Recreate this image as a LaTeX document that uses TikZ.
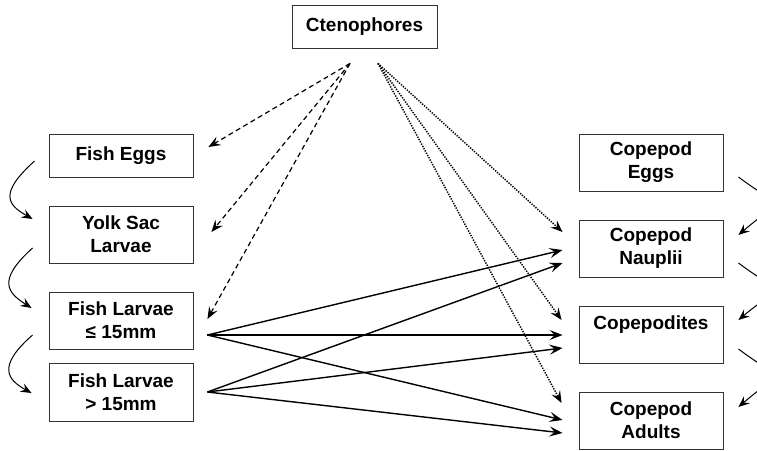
\documentclass[tikz,border=0pt]{standalone}
\usepackage{fontspec}
\setmainfont{Liberation Sans}
\usetikzlibrary{arrows.meta}
\begin{document}
\begin{tikzpicture}[x=1pt,y=-1pt,
  box/.style={draw=black!80,line width=0.9pt,align=center,inner sep=0pt,
    font=\fontsize{19}{23}\selectfont\bfseries},
  box2/.style={box,minimum width=144pt,minimum height=57pt},
  box1/.style={box,minimum width=144pt,minimum height=43pt},
  feed/.style={line width=1.4pt,-{Stealth[length=13pt,width=10pt,inset=5pt]}},
  dashfeed/.style={line width=1.2pt,dash pattern=on 5pt off 3.5pt,-{Stealth[length=12pt,width=9.5pt,inset=4.5pt]}},
  dotfeed/.style={line width=1.5pt,dash pattern=on 1.3pt off 1.3pt,-{Stealth[length=12pt,width=9.5pt,inset=4.5pt]}},
  develop/.style={line width=1pt,-{Stealth[length=11pt,width=9pt,inset=4pt]}}]
\useasboundingbox (0,0) rectangle (757,450);
\clip (0,0) rectangle (757,450);
\node[box,minimum width=145pt,minimum height=43pt] (cten) at (364.5,26.5) {Ctenophores};
\node[box1] (fe) at (121,155.5) {Fish Eggs};
\node[box2] (ys) at (121,234.5) {Yolk Sac\\Larvae};
\node[box2] (fl1) at (121,320.5) {Fish Larvae\\≤ 15mm};
\node[box2,minimum height=58pt] (fl2) at (121,392) {Fish Larvae\\> 15mm};
\node[box2] (ce) at (651,162.5) {Copepod\\Eggs};
\node[box2] (nau) at (651,248.5) {Copepod\\Nauplii};
\node[box2] (cop) at (651,334.5) {Copepodites\\\phantom{A}};
\node[box2] (ad) at (651,420.5) {Copepod\\Adults};
% ctenophore predation on fish
\draw[dashfeed] ([xshift=-14.5pt,yshift=-15pt]cten.south) -- ([xshift=15pt,yshift=8.5pt]fe.east);
\draw[dashfeed] ([xshift=-14.5pt,yshift=-15pt]cten.south) -- ([xshift=18pt,yshift=2.5pt]ys.east);
\draw[dashfeed] ([xshift=-14.5pt,yshift=-15pt]cten.south) -- ([xshift=14pt,yshift=1.5pt]fl1.east);
% ctenophore predation on copepods
\draw[dotfeed] ([xshift=13.5pt,yshift=-15pt]cten.south) -- ([xshift=-16pt,yshift=16.5pt]nau.west);
\draw[dotfeed] ([xshift=13.5pt,yshift=-15pt]cten.south) -- ([xshift=-17pt,yshift=14.5pt]cop.west);
\draw[dotfeed] ([xshift=13.5pt,yshift=-15pt]cten.south) -- ([xshift=-17pt,yshift=17.5pt]ad.west);
% fish larvae feeding on copepods
\draw[feed] ([xshift=14pt,yshift=-14.5pt]fl1.east) -- ([xshift=-16pt,yshift=-1.5pt]nau.west);
\draw[feed] ([xshift=14pt,yshift=-14.5pt]fl1.east) -- ([xshift=-16pt,yshift=-0.5pt]cop.west);
\draw[feed] ([xshift=14pt,yshift=-14.5pt]fl1.east) -- ([xshift=-16pt,yshift=0.5pt]ad.west);
\draw[feed] ([xshift=14pt]fl2.east) -- ([xshift=-16pt,yshift=-14.5pt]nau.west);
\draw[feed] ([xshift=14pt]fl2.east) -- ([xshift=-16pt,yshift=-13.5pt]cop.west);
\draw[feed] ([xshift=14pt]fl2.east) -- ([xshift=-16pt,yshift=-12.5pt]ad.west);
% fish development
\draw[develop] ([xshift=-14pt,yshift=-5.5pt]fe.west) .. controls (-2,194) and (8,205) .. ([xshift=-16pt,yshift=15.5pt]ys.west);
\draw[develop] ([xshift=-16pt,yshift=-13.5pt]ys.west) .. controls (-4,281) and (8,293) .. ([xshift=-17pt,yshift=12.5pt]fl1.west);
\draw[develop] ([xshift=-16pt,yshift=-14.5pt]fl1.west) .. controls (-4,367) and (8,380) .. ([xshift=-17pt,yshift=-1pt]fl2.west);
% copepod development
\draw[develop] ([xshift=15pt,yshift=-14.5pt]ce.east) .. controls (785,212) and (785,195) .. ([xshift=15pt,yshift=13.5pt]nau.east);
\draw[develop] ([xshift=15pt,yshift=-14.5pt]nau.east) .. controls (785,298) and (785,281) .. ([xshift=15pt,yshift=14.5pt]cop.east);
\draw[develop] ([xshift=15pt,yshift=-14.5pt]cop.east) .. controls (785,384) and (785,367) .. ([xshift=15pt,yshift=13.5pt]ad.east);
\end{tikzpicture}
\end{document}
